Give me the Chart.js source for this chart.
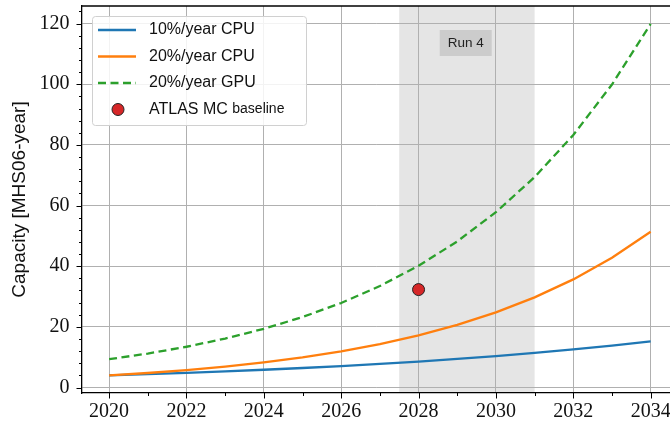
<!DOCTYPE html>
<html>
<head>
<meta charset="utf-8">
<script src="https://cdn.jsdelivr.net/npm/chart.js@4"></script>
<style>
    body { margin: 0; background: #fff; }
    #wrap { width: 670px; height: 421px; }
</style>
</head>
<body>
<div id="wrap"><canvas id="myChart" width="670" height="421"></canvas></div>
<script>
const years = [2020, 2021, 2022, 2023, 2024, 2025, 2026, 2027, 2028, 2029, 2030, 2031, 2032, 2033, 2034];
const cpu10 = [4.0, 4.4, 4.84, 5.32, 5.86, 6.44, 7.09, 7.79, 8.57, 9.43, 10.37, 11.41, 12.55, 13.81, 15.19];
const cpu20 = [4.0, 4.8, 5.76, 6.91, 8.29, 9.95, 11.94, 14.33, 17.2, 20.64, 24.77, 29.72, 35.66, 42.8, 51.36];
const gpu20 = [9.34, 11.2, 13.45, 16.14, 19.36, 23.24, 27.88, 33.46, 40.15, 48.18, 57.82, 69.38, 83.26, 99.91, 119.89];
const baselineYear = [2028];
const baselineValue = [32.3];
const seriesLabels = ['10%/year CPU', '20%/year CPU', '20%/year GPU', 'ATLAS MC baseline'];
const xTicks = [2020, 2022, 2024, 2026, 2028, 2030, 2032, 2034];
const yTicks = [0, 20, 40, 60, 80, 100, 120];
const run4Span = [2027.5, 2031];
const run4Label = 'Run 4';

const serif = '"Liberation Serif", "DejaVu Serif", serif';
const sans = '"Liberation Sans", "DejaVu Sans", sans-serif';

const toPoints = (xs, ys) => xs.map((x, i) => ({ x: x, y: ys[i] }));

// shading, minor/major ticks, top spine, run label and legend
const decor = {
    id: 'decor',
    beforeDraw(chart) {
        const { ctx, chartArea, scales } = chart;
        const x0 = scales.x.getPixelForValue(run4Span[0]);
        const x1 = scales.x.getPixelForValue(run4Span[1]);
        ctx.save();
        ctx.fillStyle = '#e5e5e5';
        ctx.fillRect(x0, chartArea.top, x1 - x0, chartArea.bottom - chartArea.top);
        ctx.restore();
    },
    afterDraw(chart) {
        const { ctx, chartArea, scales } = chart;
        ctx.save();
        ctx.strokeStyle = '#000';
        ctx.lineWidth = 1;

        // x ticks
        for (let yr = 2020; yr <= 2034; yr++) {
            const px = Math.round(scales.x.getPixelForValue(yr)) + 0.5;
            const len = yr % 2 === 0 ? 5.5 : 3;
            ctx.beginPath();
            ctx.moveTo(px, chartArea.bottom);
            ctx.lineTo(px, chartArea.bottom + len);
            ctx.stroke();
        }
        // y ticks
        for (let v = 0; v <= 124; v += 4) {
            const py = Math.round(scales.y.getPixelForValue(v)) + 0.5;
            const len = v % 20 === 0 ? 5.5 : 3;
            ctx.beginPath();
            ctx.moveTo(chartArea.left, py);
            ctx.lineTo(chartArea.left - len, py);
            ctx.stroke();
        }

        // top spine
        ctx.lineWidth = 1.3;
        ctx.beginPath();
        ctx.moveTo(chartArea.left, chartArea.top);
        ctx.lineTo(chartArea.right, chartArea.top);
        ctx.stroke();

        // Run 4 box
        const cx = scales.x.getPixelForValue(2029.22);
        const cy = scales.y.getPixelForValue(113.6);
        ctx.fillStyle = '#cccccc';
        ctx.fillRect(cx - 26, cy - 13, 52, 26);
        ctx.fillStyle = '#222';
        ctx.font = '13.5px ' + sans;
        ctx.textAlign = 'center';
        ctx.textBaseline = 'middle';
        ctx.fillText(run4Label, cx, cy + 0.5);

        // legend
        ctx.beginPath();
        ctx.roundRect(92.5, 16.5, 214, 109, 3);
        ctx.fillStyle = 'rgba(255,255,255,0.85)';
        ctx.fill();
        ctx.strokeStyle = '#d0d0d0';
        ctx.lineWidth = 1;
        ctx.stroke();

        ctx.textAlign = 'left';
        chart.data.datasets.forEach((ds, i) => {
            const ly = 30 + i * 26.5;
            if (ds.showLine === false) {
                ctx.beginPath();
                ctx.arc(118, ly, 6, 0, Math.PI * 2);
                ctx.fillStyle = ds.pointBackgroundColor;
                ctx.fill();
                ctx.strokeStyle = ds.pointBorderColor;
                ctx.lineWidth = 1;
                ctx.stroke();
            } else {
                ctx.beginPath();
                ctx.setLineDash(ds.borderDash || []);
                ctx.moveTo(98, ly);
                ctx.lineTo(136, ly);
                ctx.strokeStyle = ds.borderColor;
                ctx.lineWidth = ds.borderWidth;
                ctx.stroke();
                ctx.setLineDash([]);
            }
            ctx.fillStyle = '#111';
            if (ds.label === 'ATLAS MC baseline') {
                ctx.font = '16px ' + sans;
                ctx.fillText('ATLAS MC ', 149, ly);
                const w = ctx.measureText('ATLAS MC ').width;
                ctx.font = '14px ' + sans;
                ctx.fillText('baseline', 149 + w, ly);
            } else {
                ctx.font = '16px ' + sans;
                ctx.fillText(ds.label, 149, ly);
            }
        });
        ctx.restore();
    }
};

const ctxLine = document.getElementById('myChart').getContext('2d');
const myChart = new Chart(ctxLine, {
    type: 'line',
    data: {
        datasets: [
            {
                label: seriesLabels[0],
                data: toPoints(years, cpu10),
                borderColor: '#1f77b4',
                borderWidth: 2.3,
                pointRadius: 0,
                order: 3
            },
            {
                label: seriesLabels[1],
                data: toPoints(years, cpu20),
                borderColor: '#ff7f0e',
                borderWidth: 2.3,
                pointRadius: 0,
                order: 2
            },
            {
                label: seriesLabels[2],
                data: toPoints(years, gpu20),
                borderColor: '#2ca02c',
                borderWidth: 2.3,
                borderDash: [8, 4.5],
                pointRadius: 0,
                order: 1
            },
            {
                label: seriesLabels[3],
                data: toPoints(baselineYear, baselineValue),
                showLine: false,
                pointRadius: 6,
                pointBackgroundColor: '#d62728',
                pointBorderColor: '#222',
                pointBorderWidth: 1,
                order: 0
            }
        ]
    },
    options: {
        responsive: false,
        animation: false,
        devicePixelRatio: 1,
        layout: { autoPadding: false, padding: { top: 6, right: 0, left: 0, bottom: 0 } },
        plugins: {
            legend: { display: false },
            tooltip: { enabled: false }
        },
        scales: {
            x: {
                type: 'linear',
                min: 2019.3,
                max: 2034.5,
                afterBuildTicks: (scale) => { scale.ticks = xTicks.map(v => ({ value: v })); },
                afterFit: (scale) => {
                    scale.height = 28;
                    scale.paddingLeft = 0;
                    scale.paddingRight = 0;
                },
                grid: { color: '#b0b0b0', lineWidth: 1, drawTicks: false },
                border: { color: '#000', width: 1.3 },
                ticks: {
                    font: { family: serif, size: 20 },
                    color: '#111',
                    padding: 7,
                    maxRotation: 0,
                    callback: (v) => String(v)
                }
            },
            y: {
                min: -1.8,
                max: 125.8,
                afterBuildTicks: (scale) => { scale.ticks = yTicks.map(v => ({ value: v })); },
                afterFit: (scale) => {
                    scale.width = 82;
                    scale.paddingTop = 0;
                    scale.paddingBottom = 0;
                },
                grid: { color: '#b0b0b0', lineWidth: 1, drawTicks: false },
                border: { color: '#000', width: 1.3 },
                title: {
                    display: true,
                    text: 'Capacity [MHS06-year]',
                    font: { family: sans, size: 19 },
                    color: '#111',
                    padding: { top: 8, bottom: 0 }
                },
                ticks: {
                    font: { family: serif, size: 20 },
                    color: '#111',
                    padding: 12.5,
                    callback: (v) => String(v)
                }
            }
        }
    },
    plugins: [decor]
});
</script>
</body>
</html>
